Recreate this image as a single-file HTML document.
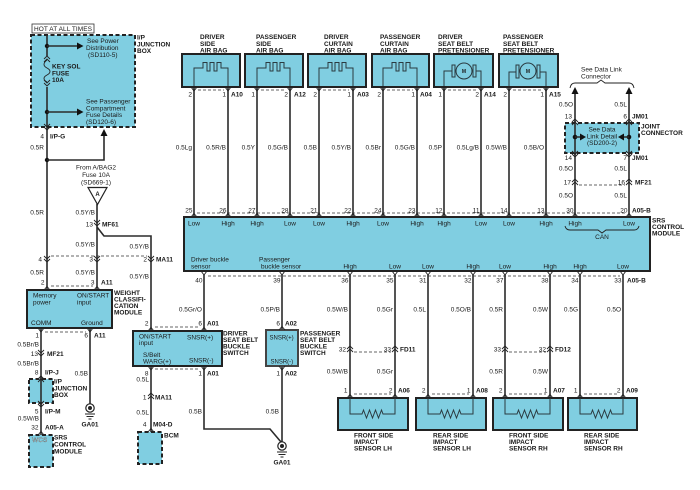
<!DOCTYPE html>
<html><head><meta charset="utf-8">
<style>
html,body{margin:0;padding:0;background:#fff;}
svg{display:block;}
text{font-family:"Liberation Sans",Arial,sans-serif;font-size:6.5px;fill:#1a1a1a;}
.b{font-weight:bold;}
.m{text-anchor:middle;}
.e{text-anchor:end;}
.w{stroke:#2b2b2b;stroke-width:1.6;fill:none;}
.d{stroke:#333;stroke-width:0.8;fill:none;stroke-dasharray:3 2;}
.c{stroke:#222;stroke-width:0.9;fill:none;}
.s{stroke:#2a3a40;stroke-width:1;fill:none;}
.bx{fill:#80cee1;stroke:#222;stroke-width:2;}
.db{fill:#80cee1;stroke:#222;stroke-width:2;stroke-dasharray:4 2.5;}
</style></head><body>
<svg width="700" height="490" viewBox="0 0 700 490" xmlns="http://www.w3.org/2000/svg">

<!-- ===== TOP LEFT I/P JUNCTION BOX ===== -->
<rect x="32" y="24" width="62" height="9" fill="#fff" stroke="#333" stroke-width="0.8"/>
<text x="34" y="31" textLength="58">HOT AT ALL TIMES</text>
<rect class="db" x="31" y="35" width="104" height="92"/>
<path class="w" d="M47,35V56M47,87V290"/>
<path class="c" stroke-width="1.2" d="M47,60C43,63 43,66 47,68C51,70 51,73 47,75C43,77 43,80 47,82"/>
<path class="c" d="M44,59L47,56L50,59M44,62L47,59L50,62"/>
<path class="c" d="M44,83L47,86L50,83M44,80L47,83L50,80"/>
<circle cx="47" cy="46" r="2.2" fill="#111"/>
<circle cx="47" cy="112" r="2.2" fill="#111"/>
<circle cx="47" cy="160" r="2.2" fill="#111"/>
<path class="w" d="M47,46H78M47,112H78"/>
<polygon points="77,42.5 83.5,46 77,49.5" fill="#111"/>
<polygon points="77,108.5 83.5,112 77,115.5" fill="#111"/>
<path class="c" d="M44,124L47,127L50,124M44,127L47,130L50,127"/>
<path class="w" d="M47,160H104V135"/>
<polygon points="100.5,136 104,129 107.5,136" fill="#111"/>
<text x="137" y="39.5" class="b">I/P</text>
<text x="137" y="46.3" class="b">JUNCTION</text>
<text x="137" y="53" class="b">BOX</text>
<text x="87" y="43">See Power</text>
<text x="86" y="50">Distribution</text>
<text x="88" y="57">(SD110-5)</text>
<text x="52" y="68.5" class="b">KEY SOL</text>
<text x="52" y="75.5" class="b">FUSE</text>
<text x="52" y="82" class="b">10A</text>
<text x="86" y="103.5">See Passenger</text>
<text x="86" y="110.5">Compartment</text>
<text x="86" y="117">Fuse Details</text>
<text x="86" y="124">(SD120-6)</text>
<text x="44" y="138.5" class="e">4</text>
<text x="50" y="138.5" class="b">I/P-G</text>
<text x="44" y="149.5" class="e">0.5R</text>

<!-- ===== AIRBAG TITLES ===== -->
<text x="200" y="39" class="b">DRIVER</text><text x="200" y="45.8" class="b">SIDE</text><text x="200" y="52.5" class="b">AIR BAG</text>
<text x="256" y="39" class="b">PASSENGER</text><text x="256" y="45.8" class="b">SIDE</text><text x="256" y="52.5" class="b">AIR BAG</text>
<text x="324" y="39" class="b">DRIVER</text><text x="324" y="45.8" class="b">CURTAIN</text><text x="324" y="52.5" class="b">AIR BAG</text>
<text x="380" y="39" class="b">PASSENGER</text><text x="380" y="45.8" class="b">CURTAIN</text><text x="380" y="52.5" class="b">AIR BAG</text>
<text x="438" y="39" class="b">DRIVER</text><text x="438" y="45.8" class="b">SEAT BELT</text><text x="438" y="52.5" class="b">PRETENSIONER</text>
<text x="503" y="39" class="b">PASSENGER</text><text x="503" y="45.8" class="b">SEAT BELT</text><text x="503" y="52.5" class="b">PRETENSIONER</text>

<!-- ===== TOP WIRES ===== -->
<path class="w" d="M194,87V217M228,87V217M257,87V217M290,87V217M319,87V217M353,87V217M383,87V217M417,87V217M444,87V217M481,87V217M509,87V217M546,87V217"/>
<path class="w" d="M575,93V217M629,93V217"/>

<!-- airbag boxes -->
<rect class="bx" x="182" y="54" width="58" height="33"/>
<rect class="bx" x="245" y="54" width="58" height="33"/>
<rect class="bx" x="308" y="54" width="58" height="33"/>
<rect class="bx" x="372" y="54" width="57" height="33"/>
<rect class="bx" x="434" y="54" width="59" height="33"/>
<rect class="bx" x="499" y="54" width="59" height="33"/>
<path class="s" d="M194,86V68H203V62.5H207V71H210V62.5H214V71H217V62.5H221V68H228V86"/>
<path class="s" d="M257,86V68H266V62.5H270V71H273V62.5H277V71H280V62.5H284V68H290V86"/>
<path class="s" d="M319,86V68H328V62.5H332V71H335V62.5H339V71H342V62.5H346V68H353V86"/>
<path class="s" d="M383,86V68H392V62.5H396V71H399V62.5H403V71H406V62.5H410V68H417V86"/>
<!-- motors -->
<path class="s" d="M444,86V71H452M476,71H481V86"/>
<rect x="452" y="65" width="3" height="12" fill="none" stroke="#2a3a40" stroke-width="1"/>
<rect x="473" y="65" width="3" height="12" fill="none" stroke="#2a3a40" stroke-width="1"/>
<circle cx="464" cy="71" r="8" fill="#80cee1" stroke="#2a3a40" stroke-width="1"/>
<text x="464" y="73" class="b m" style="font-size:5px">M</text>
<path class="s" d="M509,86V72H516M540,72H546V86"/>
<rect x="516" y="65" width="3" height="13" fill="none" stroke="#2a3a40" stroke-width="1"/>
<rect x="537" y="65" width="3" height="13" fill="none" stroke="#2a3a40" stroke-width="1"/>
<circle cx="528" cy="71" r="8" fill="#80cee1" stroke="#2a3a40" stroke-width="1"/>
<text x="528" y="73" class="b m" style="font-size:5px">M</text>
<!-- airbag pin symbols -->
<path class="c" d="M191,87L194,91L197,87M225,87L228,91L231,87M254,87L257,91L260,87M287,87L290,91L293,87M316,87L319,91L322,87M350,87L353,91L356,87M380,87L383,91L386,87M414,87L417,91L420,87M441,87L444,91L447,87M478,87L481,91L484,87M506,87L509,91L512,87M543,87L546,91L549,87"/>
<path class="d" d="M198,90H224M261,90H286M323,90H349M387,90H413M448,90H477M513,90H542"/>
<text x="192" y="96.5" class="e">2</text><text x="226" y="96.5" class="e">1</text><text x="231" y="96.5" class="b">A10</text>
<text x="255" y="96.5" class="e">1</text><text x="288" y="96.5" class="e">2</text><text x="294" y="96.5" class="b">A12</text>
<text x="317" y="96.5" class="e">2</text><text x="351" y="96.5" class="e">1</text><text x="357" y="96.5" class="b">A03</text>
<text x="381" y="96.5" class="e">2</text><text x="415" y="96.5" class="e">1</text><text x="420" y="96.5" class="b">A04</text>
<text x="442" y="96.5" class="e">1</text><text x="479" y="96.5" class="e">2</text><text x="484" y="96.5" class="b">A14</text>
<text x="507" y="96.5" class="e">2</text><text x="544" y="96.5" class="e">1</text><text x="549" y="96.5" class="b">A15</text>
<!-- wire labels -->
<text x="192" y="149.5" class="e">0.5Lg</text>
<text x="226" y="149.5" class="e">0.5R/B</text>
<text x="255" y="149.5" class="e">0.5Y</text>
<text x="288" y="149.5" class="e">0.5G/B</text>
<text x="317" y="149.5" class="e">0.5B</text>
<text x="351" y="149.5" class="e">0.5Y/B</text>
<text x="381" y="149.5" class="e">0.5Br</text>
<text x="415" y="149.5" class="e">0.5G/B</text>
<text x="442" y="149.5" class="e">0.5P</text>
<text x="479" y="149.5" class="e">0.5Lg/B</text>
<text x="507" y="149.5" class="e">0.5W/B</text>
<text x="544" y="149.5" class="e">0.5B/O</text>

<!-- ===== DATA LINK / JOINT CONNECTOR ===== -->
<text x="581" y="71.5">See Data Link</text>
<text x="581" y="78.5">Connector</text>
<path class="c" stroke-width="0.8" d="M570,88Q571,83 575,83H597L601,80L605,83H629Q633,83 634,88"/>
<polygon points="571.5,94 575,87 578.5,94" fill="#111"/>
<polygon points="625.5,94 629,87 632.5,94" fill="#111"/>
<text x="573" y="106.5" class="e">0.5O</text>
<text x="627" y="106.5" class="e">0.5L</text>
<text x="572" y="118.5" class="e">13</text>
<text x="627" y="118.5" class="e">6</text>
<text x="632" y="118.5" class="b">JM01</text>
<rect class="db" x="565" y="123" width="74" height="30"/>
<path class="w" d="M575,121V155M629,121V155"/>
<path class="c" d="M572,122L575,119L578,122M572,125L575,122L578,125M626,122L629,119L632,122M626,125L629,122L632,125"/>
<path class="c" d="M572,151L575,154L578,151M572,154L575,157L578,154M626,151L629,154L632,151M626,154L629,157L632,154"/>
<circle cx="575" cy="137" r="2.3" fill="#111"/>
<circle cx="629" cy="137" r="2.3" fill="#111"/>
<path class="w" d="M575,137H581M623,137H629"/>
<polygon points="580,133.5 586,137 580,140.5" fill="#111"/>
<polygon points="624,133.5 618,137 624,140.5" fill="#111"/>
<text x="602" y="131.5" class="m">See Data</text>
<text x="602" y="138.5" class="m">Link Detail</text>
<text x="602" y="145" class="m">(SD200-2)</text>
<text x="641" y="128.5" class="b">JOINT</text>
<text x="641" y="135" class="b">CONNECTOR</text>
<text x="572" y="160" class="e">14</text>
<text x="627" y="160" class="e">7</text>
<text x="632" y="160" class="b">JM01</text>
<text x="573" y="170.5" class="e">0.5O</text>
<text x="627" y="170.5" class="e">0.5L</text>
<path class="c" d="M572,182L575,179L578,182M572,185L575,182L578,185M626,182L629,179L632,182M626,185L629,182L632,185"/>
<path class="d" d="M579,185H625"/>
<text x="571" y="184.5" class="e">17</text>
<text x="625" y="184.5" class="e">16</text>
<text x="635" y="184.5" class="b">MF21</text>
<text x="573" y="197.5" class="e">0.5O</text>
<text x="627" y="197.5" class="e">0.5L</text>

<!-- ===== SRS TOP PINS ===== -->
<path class="d" d="M197,213H626"/>
<text x="192.5" y="212.5" class="e">25</text>
<text x="226.5" y="212.5" class="e">26</text>
<text x="255.5" y="212.5" class="e">27</text>
<text x="288.5" y="212.5" class="e">28</text>
<text x="317.5" y="212.5" class="e">21</text>
<text x="351.5" y="212.5" class="e">22</text>
<text x="381.5" y="212.5" class="e">24</text>
<text x="415.5" y="212.5" class="e">23</text>
<text x="442.5" y="212.5" class="e">12</text>
<text x="479.5" y="212.5" class="e">11</text>
<text x="507.5" y="212.5" class="e">14</text>
<text x="544.5" y="212.5" class="e">13</text>
<text x="573.5" y="212.5" class="e">30</text>
<text x="627.5" y="212.5" class="e">20</text>
<text x="632" y="212.5" class="b">A05-B</text>

<!-- ===== LEFT MID WIRES ===== -->
<path class="w" d="M97,204V290M97,227L104,236H151V331M151,366V432M41,328V435M90,328V404"/>
<path class="w" d="M204,275V429H270L281,442M282,275V442"/>
<path class="w" d="M350,275V398M395,275V398M428,275V398M473,275V398M505,275V398M550,275V398M580,275V398M623,275V398"/>

<!-- SRS box -->
<rect class="bx" x="184" y="217" width="466" height="54"/>
<path class="c" d="M191,217L194,213.5L197,217M225,217L228,213.5L231,217M254,217L257,213.5L260,217M287,217L290,213.5L293,217M316,217L319,213.5L322,217M350,217L353,213.5L356,217M380,217L383,213.5L386,217M414,217L417,213.5L420,217M441,217L444,213.5L447,217M478,217L481,213.5L484,217M506,217L509,213.5L512,217M543,217L546,213.5L549,217M572,217L575,213.5L578,217M626,217L629,213.5L632,217"/>
<text x="194" y="225.5" class="m">Low</text>
<text x="228" y="225.5" class="m">High</text>
<text x="257" y="225.5" class="m">High</text>
<text x="290" y="225.5" class="m">Low</text>
<text x="319" y="225.5" class="m">Low</text>
<text x="353" y="225.5" class="m">High</text>
<text x="383" y="225.5" class="m">Low</text>
<text x="417" y="225.5" class="m">High</text>
<text x="444" y="225.5" class="m">High</text>
<text x="481" y="225.5" class="m">Low</text>
<text x="509" y="225.5" class="m">Low</text>
<text x="546" y="225.5" class="m">High</text>
<text x="575" y="225.5" class="m">High</text>
<text x="629" y="225.5" class="m">Low</text>
<path class="c" stroke-width="0.8" d="M565,226Q566,230 570,230H598L602,233L606,230H634Q638,230 639,226"/>
<text x="602" y="239" class="m">CAN</text>
<text x="652" y="222.5" class="b">SRS</text>
<text x="652" y="229" class="b">CONTROL</text>
<text x="652" y="235.5" class="b">MODULE</text>
<text x="191" y="261.5">Driver buckle</text>
<text x="191" y="268.5">sensor</text>
<text x="259" y="261.5">Passenger</text>
<text x="261" y="268.5">buckle sensor</text>
<text x="350" y="268.5" class="m">High</text>
<text x="395" y="268.5" class="m">Low</text>
<text x="428" y="268.5" class="m">Low</text>
<text x="473" y="268.5" class="m">High</text>
<text x="505" y="268.5" class="m">Low</text>
<text x="550" y="268.5" class="m">High</text>
<text x="580" y="268.5" class="m">High</text>
<text x="623" y="268.5" class="m">Low</text>
<path class="c" d="M201,271L204,275L207,271M279,271L282,275L285,271M347,271L350,275L353,271M392,271L395,275L398,271M425,271L428,275L431,271M470,271L473,275L476,271M502,271L505,275L508,271M547,271L550,275L553,271M577,271L580,275L583,271M620,271L623,275L626,271"/>
<path class="d" d="M208,276H620"/>
<text x="202.5" y="282.5" class="e">40</text>
<text x="280.5" y="282.5" class="e">39</text>
<text x="348.5" y="282.5" class="e">36</text>
<text x="393.5" y="282.5" class="e">35</text>
<text x="426.5" y="282.5" class="e">31</text>
<text x="471.5" y="282.5" class="e">32</text>
<text x="503.5" y="282.5" class="e">37</text>
<text x="548.5" y="282.5" class="e">38</text>
<text x="578.5" y="282.5" class="e">34</text>
<text x="621.5" y="282.5" class="e">33</text>
<text x="627" y="282.5" class="b">A05-B</text>

<!-- bottom wire labels -->
<text x="202" y="311.5" class="e">0.5Gr/O</text>
<text x="280" y="311.5" class="e">0.5P/B</text>
<text x="348" y="311.5" class="e">0.5W/B</text>
<text x="393" y="311.5" class="e">0.5Gr</text>
<text x="426" y="311.5" class="e">0.5L</text>
<text x="471" y="311.5" class="e">0.5O/B</text>
<text x="503" y="311.5" class="e">0.5R</text>
<text x="548" y="311.5" class="e">0.5W</text>
<text x="578" y="311.5" class="e">0.5G</text>
<text x="621" y="311.5" class="e">0.5O</text>
<!-- FD11 / FD12 -->
<path class="c" d="M347,349L350,346L353,349M347,352L350,349L353,352M392,349L395,346L398,349M392,352L395,349L398,352"/>
<path class="c" d="M502,349L505,346L508,349M502,352L505,349L508,352M547,349L550,346L553,349M547,352L550,349L553,352"/>
<path class="d" d="M354,352H391M509,352H546"/>
<text x="346" y="351.5" class="e">32</text>
<text x="391" y="351.5" class="e">33</text>
<text x="400" y="351.5" class="b">FD11</text>
<text x="501" y="351.5" class="e">33</text>
<text x="546" y="351.5" class="e">32</text>
<text x="555" y="351.5" class="b">FD12</text>
<text x="348" y="373.5" class="e">0.5W/B</text>
<text x="393" y="373.5" class="e">0.5Gr</text>
<text x="503" y="373.5" class="e">0.5R</text>
<text x="548" y="373.5" class="e">0.5W</text>

<!-- sensor pins -->
<path class="d" d="M354,394H391M432,394H469M509,394H546M584,394H619"/>
<text x="347.5" y="392.5" class="e">1</text><text x="392.5" y="392.5" class="e">2</text><text x="398" y="392.5" class="b">A06</text>
<text x="425.5" y="392.5" class="e">2</text><text x="470.5" y="392.5" class="e">1</text><text x="476" y="392.5" class="b">A08</text>
<text x="502.5" y="392.5" class="e">2</text><text x="547.5" y="392.5" class="e">1</text><text x="553" y="392.5" class="b">A07</text>
<text x="577.5" y="392.5" class="e">1</text><text x="620.5" y="392.5" class="e">2</text><text x="626" y="392.5" class="b">A09</text>
<!-- sensor boxes -->
<rect class="bx" x="338" y="398" width="70" height="32"/>
<rect class="bx" x="416" y="398" width="70" height="32"/>
<rect class="bx" x="493" y="398" width="70" height="32"/>
<rect class="bx" x="568" y="398" width="69" height="32"/>
<path class="c" d="M347,398L350,394.5L353,398M392,398L395,394.5L398,398M425,398L428,394.5L431,398M470,398L473,394.5L476,398M502,398L505,394.5L508,398M547,398L550,394.5L553,398M577,398L580,394.5L583,398M620,398L623,394.5L626,398"/>
<path class="s" d="M350,398V414H362l1.5,-4l3,8l3,-8l3,8l3,-8l3,8l3,-8l1.5,4H395V398"/>
<path class="s" d="M428,398V414H440l1.5,-4l3,8l3,-8l3,8l3,-8l3,8l3,-8l1.5,4H473V398"/>
<path class="s" d="M505,398V414H517l1.5,-4l3,8l3,-8l3,8l3,-8l3,8l3,-8l1.5,4H550V398"/>
<path class="s" d="M580,398V414H591l1.5,-4l3,8l3,-8l3,8l3,-8l3,8l3,-8l1.5,4H623V398"/>
<text x="354" y="437.5" class="b">FRONT SIDE</text><text x="354" y="444" class="b">IMPACT</text><text x="354" y="450.5" class="b">SENSOR LH</text>
<text x="433" y="437.5" class="b">REAR SIDE</text><text x="433" y="444" class="b">IMPACT</text><text x="433" y="450.5" class="b">SENSOR LH</text>
<text x="509" y="437.5" class="b">FRONT SIDE</text><text x="509" y="444" class="b">IMPACT</text><text x="509" y="450.5" class="b">SENSOR RH</text>
<text x="584" y="437.5" class="b">REAR SIDE</text><text x="584" y="444" class="b">IMPACT</text><text x="584" y="450.5" class="b">SENSOR RH</text>

<!-- ===== LEFT: A/BAG2 feed, MF61, MA11 ===== -->
<text x="96" y="169.5" class="m">From A/BAG2</text>
<text x="96" y="177" class="m">Fuse 10A</text>
<text x="96" y="184.5" class="m">(SD669-1)</text>
<polygon points="88,187.5 107,187.5 97.5,204.5" fill="#fff" stroke="#222" stroke-width="1.2"/>
<text x="97.5" y="196" class="m b" style="font-size:6px">A</text>
<text x="44" y="214.5" class="e">0.5R</text>
<text x="95" y="214.5" class="e">0.5Y/B</text>
<path class="c" d="M94,220L97,223L100,220M94,223L97,226L100,223"/>
<text x="93" y="226.5" class="e">13</text>
<text x="102" y="226.5" class="b">MF61</text>
<text x="95" y="246.5" class="e">0.5Y/B</text>
<text x="149" y="248.5" class="e">0.5Y/B</text>
<path class="d" d="M51,256H147"/>
<path class="c" d="M44,256L47,259L50,256M44,259L47,262L50,259M94,256L97,259L100,256M94,259L97,262L100,259M148,256L151,259L154,256M148,259L151,262L154,259"/>
<text x="42" y="261.5" class="e">4</text>
<text x="93" y="261.5" class="e">3</text>
<text x="147" y="261.5" class="e">2</text>
<text x="156" y="261.5" class="b">MA11</text>
<text x="44" y="274.5" class="e">0.5R</text>
<text x="95" y="274.5" class="e">0.5Y/B</text>
<text x="149" y="278.5" class="e">0.5Y/B</text>
<path class="d" d="M51,286H93"/>
<text x="44.5" y="284.5" class="e">2</text>
<text x="94.5" y="284.5" class="e">3</text>
<text x="101" y="284.5" class="b">A11</text>

<!-- weight classification module -->
<rect class="bx" x="27" y="290" width="85" height="38"/>
<path class="c" d="M44,290L47,286.5L50,290M94,290L97,286.5L100,290"/>
<text x="33" y="297.5">Memory</text>
<text x="33" y="304.5">power</text>
<text x="77" y="297.5">ON/START</text>
<text x="77" y="304.5">input</text>
<text x="31" y="325">COMM</text>
<text x="81" y="325">Ground</text>
<text x="114" y="295" class="b">WEIGHT</text>
<text x="114" y="301.5" class="b">CLASSIFI-</text>
<text x="114" y="308" class="b">CATION</text>
<text x="114" y="314.5" class="b">MODULE</text>
<path class="c" d="M38,328L41,332L44,328M87,328L90,332L93,328"/>
<path class="d" d="M45,332H86"/>
<text x="39" y="337.5" class="e">1</text>
<text x="88" y="337.5" class="e">6</text>
<text x="94" y="337.5" class="b">A11</text>
<text x="39" y="346.5" class="e">0.5Br/B</text>
<path class="c" d="M38,350L41,353L44,350M38,353L41,356L44,353"/>
<text x="38" y="356" class="e">13</text>
<text x="47" y="356" class="b">MF21</text>
<text x="39" y="365.5" class="e">0.5Br/B</text>
<text x="38.5" y="374.5" class="e">8</text>
<text x="45" y="374.5" class="b">I/P-J</text>
<rect class="db" x="29" y="379" width="24" height="24"/>
<path class="w" d="M41,376V406"/>
<path class="c" d="M38,379L41,376L44,379M38,382L41,379L44,382M38,401L41,404L44,401M38,404L41,407L44,404"/>
<text x="54" y="383.5" class="b">I/P</text>
<text x="54" y="390.5" class="b">JUNCTION</text>
<text x="54" y="397" class="b">BOX</text>
<text x="38.5" y="413.5" class="e">5</text>
<text x="45" y="413.5" class="b">I/P-M</text>
<text x="39" y="420.5" class="e">0.5W/B</text>
<text x="38.5" y="429.5" class="e">32</text>
<text x="45" y="429.5" class="b">A05-A</text>
<rect class="db" x="29" y="435" width="24" height="32"/>
<path class="c" d="M38,435L41,431.5L44,435"/>
<text x="32" y="442" style="fill:#fff;stroke:#333;stroke-width:0.25">WCS</text>
<text x="54" y="439.5" class="b">SRS</text>
<text x="54" y="446.5" class="b">CONTROL</text>
<text x="54" y="453.5" class="b">MODULE</text>
<!-- ground GA01 left -->
<text x="88" y="375.5" class="e">0.5B</text>
<circle cx="90" cy="408" r="4.2" fill="#fff" stroke="#222" stroke-width="1.2"/>
<circle cx="90" cy="408" r="2" fill="#222"/>
<path class="c" stroke-width="1.1" d="M85,414H95M86.5,416.5H93.5M88.5,419H91.5"/>
<text x="90" y="426.5" class="b m">GA01</text>

<!-- driver seat belt buckle switch -->
<path class="d" d="M155,327H200"/>
<text x="148.5" y="325.5" class="e">2</text>
<text x="202" y="325.5" class="e">6</text>
<text x="207" y="325.5" class="b">A01</text>
<rect class="bx" x="133" y="331" width="89" height="35"/>
<path class="c" d="M148,331L151,327.5L154,331M201,331L204,327.5L207,331"/>
<text x="139" y="338.5">ON/START</text>
<text x="139" y="345">input</text>
<text x="187" y="339.5">SNSR(+)</text>
<text x="143" y="357">S/Belt</text>
<text x="143" y="363.5">WARG(+)</text>
<text x="189" y="362.5">SNSR(-)</text>
<text x="223" y="335.5" class="b">DRIVER</text>
<text x="223" y="342" class="b">SEAT BELT</text>
<text x="223" y="348.5" class="b">BUCKLE</text>
<text x="223" y="355" class="b">SWITCH</text>
<path class="c" d="M148,366L151,370L154,366M201,366L204,370L207,366"/>
<path class="d" d="M155,369H200"/>
<text x="148.5" y="375.5" class="e">8</text>
<text x="202" y="375.5" class="e">1</text>
<text x="207" y="375.5" class="b">A01</text>
<text x="149" y="381.5" class="e">0.5L</text>
<path class="c" d="M148,396L151,393L154,396M148,399L151,396L154,399"/>
<text x="146.5" y="399.5" class="e">1</text>
<text x="155" y="399.5" class="b">MA11</text>
<text x="149" y="414.5" class="e">0.5L</text>
<text x="202" y="413.5" class="e">0.5B</text>
<text x="146.5" y="426.5" class="e">4</text>
<text x="153" y="426.5" class="b">M04-D</text>
<rect class="db" x="138" y="432" width="24" height="32"/>
<path class="c" d="M148,432L151,428.5L154,432"/>
<text x="164" y="437.5" class="b">BCM</text>

<!-- passenger seat belt buckle switch -->
<text x="280" y="325.5" class="e">6</text>
<text x="285" y="325.5" class="b">A02</text>
<rect class="bx" x="266" y="330" width="32" height="36" style="stroke:#444"/>
<path class="c" d="M279,330L282,326.5L285,330M279,366L282,370L285,366"/>
<text x="269.5" y="339.5" style="font-size:6px">SNSR(+)</text>
<text x="270.5" y="363.5" style="font-size:6px">SNSR(-)</text>
<text x="300" y="335.5" class="b">PASSENGER</text>
<text x="300" y="342" class="b">SEAT BELT</text>
<text x="300" y="348.5" class="b">BUCKLE</text>
<text x="300" y="355" class="b">SWITCH</text>
<text x="280" y="375.5" class="e">1</text>
<text x="285" y="375.5" class="b">A02</text>
<text x="279" y="413.5" class="e">0.5B</text>
<!-- ground GA01 center -->
<circle cx="282" cy="446" r="4.2" fill="#fff" stroke="#222" stroke-width="1.2"/>
<circle cx="282" cy="446" r="2" fill="#222"/>
<path class="c" stroke-width="1.1" d="M277,452H287M278.5,454.5H285.5M280.5,457H283.5"/>
<text x="282" y="464.5" class="b m">GA01</text>

</svg>
</body></html>
